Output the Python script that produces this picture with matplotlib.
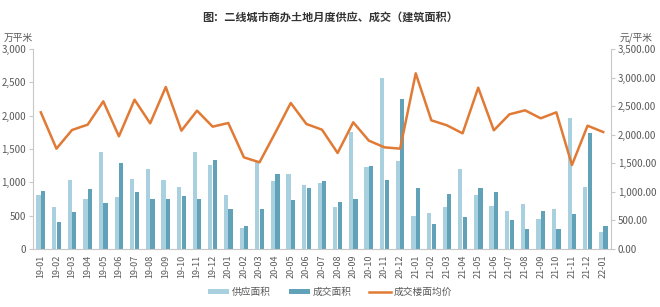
import matplotlib
matplotlib.use("Agg")
import matplotlib.pyplot as plt
import numpy as np

plt.rcParams["font.family"] = ["Noto Sans CJK SC", "DejaVu Sans"]

# Monthly data, 2019-01 .. 2022-01
months = [
    "19-01", "19-02", "19-03", "19-04", "19-05", "19-06", "19-07", "19-08", "19-09", "19-10", "19-11", "19-12",
    "20-01", "20-02", "20-03", "20-04", "20-05", "20-06", "20-07", "20-08", "20-09", "20-10", "20-11", "20-12",
    "21-01", "21-02", "21-03", "21-04", "21-05", "21-06", "21-07", "21-08", "21-09", "21-10", "21-11", "21-12",
    "22-01",
]
supply_area = [
    805, 630, 1030, 745, 1450, 785, 1050, 1200, 1030, 925, 1450, 1260,
    805, 315, 1300, 1020, 1130, 955, 990, 625, 1755, 1225, 2570, 1320,
    500, 540, 635, 1200, 815, 650, 570, 670, 455, 595, 1970, 925,
    250,
]
deal_area = [
    875, 405, 560, 905, 685, 1290, 855, 755, 745, 795, 755, 1330,
    595, 350, 605, 1120, 740, 920, 1020, 710, 750, 1240, 1040, 2255,
    910, 375, 820, 485, 920, 855, 440, 305, 565, 305, 530, 1745,
    350,
]
deal_price = [
    2392, 1756, 2083, 2176, 2584, 1972, 2613, 2199, 2835, 2071, 2421, 2141,
    2205, 1604, 1517, 2030, 2555, 2188, 2088, 1680, 2217, 1896, 1779, 1756,
    3074, 2252, 2164, 2024, 2823, 2077, 2357, 2427, 2287, 2392, 1470, 2158,
    2047,
]

SUPPLY_COLOR = "#a9d0de"
DEAL_COLOR = "#62a2b8"
PRICE_COLOR = "#e07a35"
AXIS_COLOR = "#c8c8c8"
TEXT_COLOR = "#595959"

fig = plt.figure(figsize=(6.6, 3.07), dpi=100)
ax = fig.add_axes([33 / 660, 1 - 249 / 307, 578 / 660, 200 / 307])
ax2 = ax.twinx()

x = np.arange(len(months))
width = 0.27
ax.bar(x - width / 2 - 0.01, supply_area, width, color=SUPPLY_COLOR, label="供应面积")
ax.bar(x + width / 2 + 0.01, deal_area, width, color=DEAL_COLOR, label="成交面积")
ax2.plot(x, deal_price, color=PRICE_COLOR, linewidth=1.8, label="成交楼面均价")

ax.set_xlim(-0.5, len(months) - 0.5)
ax.set_ylim(0, 3000)
ax2.set_ylim(0, 3500)
ax.set_yticks(np.arange(0, 3001, 500))
ax.set_yticklabels([f"{v:,}" for v in range(0, 3001, 500)])
ax2.set_yticks(np.arange(0, 3501, 500))
ax2.set_yticklabels([f"{v:,.2f}" for v in range(0, 3501, 500)])
ax.set_xticks(x)
ax.set_xticklabels(months, rotation=90)

for a in (ax, ax2):
    a.spines["top"].set_visible(False)
    for side in ("left", "right", "bottom"):
        a.spines[side].set_color(AXIS_COLOR)
        a.spines[side].set_linewidth(0.8)
    a.tick_params(colors=TEXT_COLOR, labelsize=7, length=3, width=0.8, pad=2)
    a.tick_params(axis="y", color=AXIS_COLOR)
ax.tick_params(axis="x", length=0, pad=4, labelsize=6.5)
ax.spines["right"].set_visible(False)
ax2.spines["left"].set_visible(False)
ax2.spines["bottom"].set_visible(False)

fig.text(0.5, 1 - 17 / 307, "图：二线城市商办土地月度供应、成交（建筑面积）", ha="center", va="center",
         fontsize=8, fontweight="bold", color="#333333")
fig.text(18 / 660, 1 - 38 / 307, "万平米", ha="center", va="center", fontsize=7, color=TEXT_COLOR)
fig.text(636 / 660, 1 - 38 / 307, "元/平米", ha="center", va="center", fontsize=7, color=TEXT_COLOR)

h1, l1 = ax.get_legend_handles_labels()
h2, l2 = ax2.get_legend_handles_labels()
fig.legend(h1 + h2, l1 + l2, loc="center", bbox_to_anchor=(0.5, 1 - 292 / 307), ncol=3, frameon=False,
           fontsize=7, labelcolor=TEXT_COLOR, handlelength=2.2, handleheight=0.5, columnspacing=1.8,
           handletextpad=0.3)

fig.savefig("out.png", dpi=100)
